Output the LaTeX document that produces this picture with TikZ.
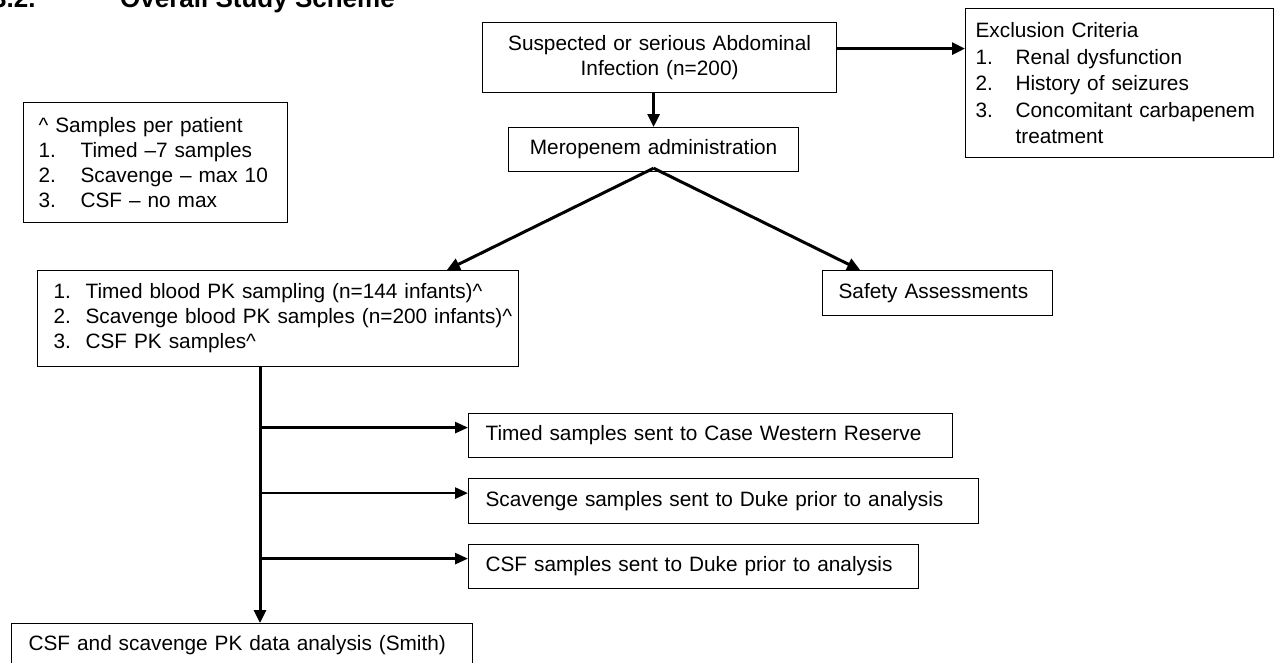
\documentclass[tikz,border=0pt]{standalone}
\usepackage{fontspec}
\setmainfont{Liberation Sans}
\usetikzlibrary{positioning,arrows.meta,calc}

\tikzset{
  box/.style={draw, line width=1.2pt, anchor=north west, inner ysep=0pt,
    font=\fontsize{20.8}{25}\selectfont},
  lbox/.style={box, align=left, inner xsep=0pt, text width=#1},
  cbox/.style={box, align=center, inner xsep=0pt, text width=#1},
  conn/.style={line width=3pt, -{Triangle[length=13pt,width=12pt]}},
  branch/.style={line width=2.6pt, -{Triangle[length=13pt,width=11pt]}}
}
\newcommand{\itm}[4]{\hspace*{#1}\makebox[#2][l]{#3}#4}

\begin{document}
\begin{tikzpicture}[x=1pt,y=-1pt]
\useasboundingbox (0,0) rectangle (1278,662);
\clip (0,0) rectangle (1278,662);

% heading, cut off at the top of the page
\node[anchor=base west, inner sep=0pt, font=\fontsize{26}{30}\selectfont\bfseries] (secnum) at (-8,7) {3.2.};
\node[anchor=base west, inner sep=0pt, font=\fontsize{26}{30}\selectfont\bfseries] (sectitle) at (120,7) {Overall Study Scheme};

% boxes
\node[cbox=354pt, minimum height=70pt] (infect) at (482,22)
  {Suspected or serious Abdominal\\Infection (n=200)};
\node[cbox=290pt, minimum height=44pt] (mero) at (508,127)
  {Meropenem administration};
\node[lbox=308pt, minimum height=149pt,
  font=\fontsize{20.8}{26.5}\selectfont] (excl) at (965,8)
  {\hspace*{10pt}Exclusion Criteria\\
   \itm{10pt}{40pt}{1.}{Renal dysfunction}\\
   \itm{10pt}{40pt}{2.}{History of seizures}\\
   \itm{10pt}{40pt}{3.}{Concomitant carbapenem}\\
   \hspace*{50pt}treatment};
\node[lbox=264pt, minimum height=120pt] (persample) at (23,102)
  {\hspace*{15pt}\textasciicircum{} Samples per patient\\
   \itm{15pt}{42pt}{1.}{Timed --7 samples}\\
   \itm{15pt}{42pt}{2.}{Scavenge -- max 10}\\
   \itm{15pt}{42pt}{3.}{CSF -- no max}};
\node[lbox=481pt, minimum height=96pt] (sampling) at (37,270)
  {\itm{16pt}{32pt}{1.}{Timed blood PK sampling (n=144 infants)\textasciicircum}\\
   \itm{16pt}{32pt}{2.}{Scavenge blood PK samples (n=200 infants)\textasciicircum}\\
   \itm{16pt}{32pt}{3.}{CSF PK samples\textasciicircum}};
\node[lbox=230pt, minimum height=45pt] (safety) at (822,270)
  {\hspace*{16pt}Safety Assessments};
\node[lbox=484pt, minimum height=44pt] (timed) at (468,413)
  {\hspace*{17pt}Timed samples sent to Case Western Reserve};
\node[lbox=510pt, minimum height=45pt] (scav) at (468,478)
  {\hspace*{17pt}Scavenge samples sent to Duke prior to analysis};
\node[lbox=450pt, minimum height=44pt] (csf) at (468,544)
  {\hspace*{17pt}CSF samples sent to Duke prior to analysis};
\node[lbox=461pt, minimum height=44pt] (final) at (11,623)
  {\hspace*{17pt}CSF and scavenge PK data analysis (Smith)};

% connectors
\draw[conn] (infect.south -| mero.north) -- (mero.north);
\draw[conn] ([yshift=9pt]infect.east) -- ([yshift=9pt]infect.east -| excl.west);
\coordinate (split) at ([yshift=4pt]mero.south);
\draw[conn] (split) -- ($(sampling.north west)!0.85!(sampling.north east)$);
\draw[conn] (split) -- ($(safety.north west)!0.165!(safety.north east)$);
\coordinate (trunk) at ([xshift=223pt]sampling.south west);
\draw[conn] (trunk) -- (trunk |- final.north);
\foreach \dest in {timed,scav,csf}{
  \coordinate (tip) at ([yshift=8pt]\dest.west);
  \draw[branch] (trunk |- tip) -- (tip);
}
\end{tikzpicture}
\end{document}
